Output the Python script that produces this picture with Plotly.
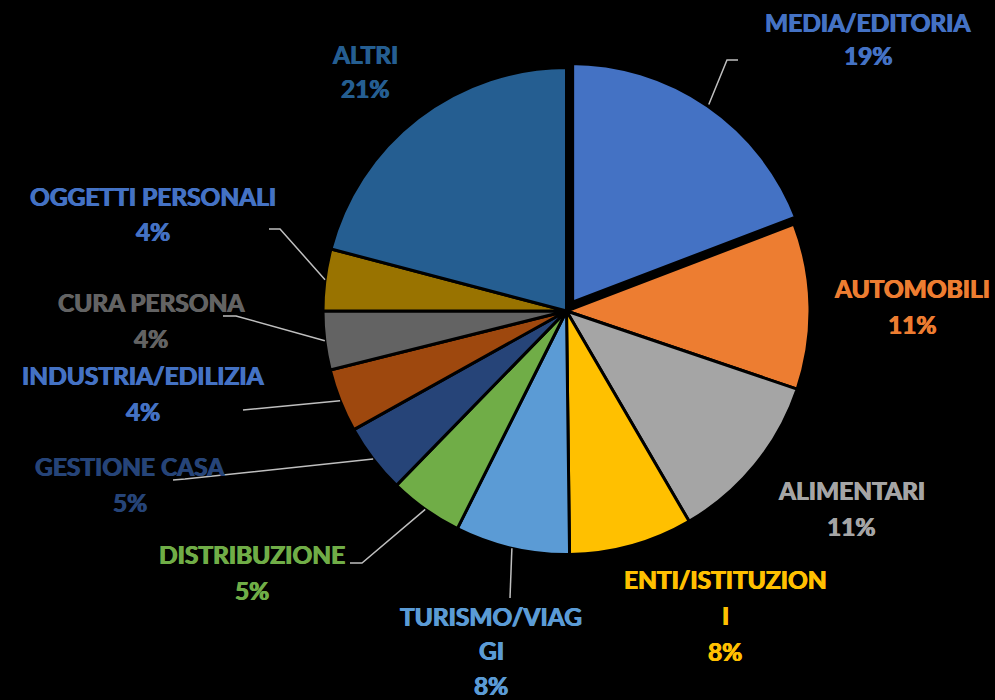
import math
import plotly.graph_objects as go

# Ripartizione degli investimenti per settore merceologico (%)
categories = [
    "MEDIA/EDITORIA", "AUTOMOBILI", "ALIMENTARI", "ENTI/ISTITUZIONI",
    "TURISMO/VIAGGI", "DISTRIBUZIONE", "GESTIONE CASA", "INDUSTRIA/EDILIZIA",
    "CURA PERSONA", "OGGETTI PERSONALI", "ALTRI",
]
values = [19.2, 11.0, 11.4, 8.2, 7.6, 4.9, 4.6, 4.2, 3.9, 4.1, 20.9]

slice_colors = [
    "#4472C4", "#ED7D31", "#A5A5A5", "#FFC000", "#5B9BD5", "#70AD47",
    "#264478", "#9E480E", "#636363", "#997300", "#255E91",
]
label_colors = [
    "#4472C4", "#ED7D31", "#A5A5A5", "#FFC000", "#5B9BD5", "#70AD47",
    "#264478", "#4472C4", "#636363", "#4472C4", "#255E91",
]

# ---- layout geometry (pixels) ----
W, H = 995, 700
CX, CY, R = 566.5, 311.0, 243.5
PULL = 0.03
pulls = [PULL] + [0] * (len(values) - 1)
border_widths = [7] + [3] * (len(values) - 1)

box = 2 * R * (1 + PULL)
dom_x = [(CX - box / 2) / W, (CX + box / 2) / W]
dom_y = [1 - (CY + box / 2) / H, 1 - (CY - box / 2) / H]

# label blocks: centre x, y of the first line, line step, wrapped name lines
label_layout = {
    "MEDIA/EDITORIA": (868, 22, 34, ["MEDIA/EDITORIA"]),
    "AUTOMOBILI": (912, 289, 35, ["AUTOMOBILI"]),
    "ALIMENTARI": (851, 490.5, 35.5, ["ALIMENTARI"]),
    "ENTI/ISTITUZIONI": (725, 579, 36, ["ENTI/ISTITUZION", "I"]),
    "TURISMO/VIAGGI": (491, 616, 34.5, ["TURISMO/VIAG", "GI"]),
    "DISTRIBUZIONE": (251.5, 554, 36, ["DISTRIBUZIONE"]),
    "GESTIONE CASA": (130, 466, 36, ["GESTIONE CASA"]),
    "INDUSTRIA/EDILIZIA": (143, 375, 36, ["INDUSTRIA/EDILIZIA"]),
    "CURA PERSONA": (151, 302, 36, ["CURA PERSONA"]),
    "OGGETTI PERSONALI": (153, 196, 36, ["OGGETTI PERSONALI"]),
    "ALTRI": (365, 54, 35, ["ALTRI"]),
}

# leader lines: points after the slice edge (elbow, end)
leader_layout = {
    "MEDIA/EDITORIA": [(727, 60), (738, 60)],
    "DISTRIBUZIONE": [(362, 563), (350, 563)],
    "TURISMO/VIAGGI": [(510, 598)],
    "GESTIONE CASA": [(185, 479), (173, 480)],
    "INDUSTRIA/EDILIZIA": [(243, 410)],
    "CURA PERSONA": [(236, 316), (223, 316)],
    "OGGETTI PERSONALI": [(280, 229), (269, 229)],
}


def px(x, y):
    return x / W, 1 - y / H


total = sum(values)
percents = [int(math.floor(v / total * 100 + 0.5)) for v in values]

fig = go.Figure(
    go.Pie(
        labels=categories,
        values=values,
        sort=False,
        direction="clockwise",
        rotation=0,
        pull=pulls,
        marker=dict(colors=slice_colors,
                    line=dict(color="#000000", width=border_widths)),
        textinfo="none",
        hoverinfo="label+percent",
        domain=dict(x=dom_x, y=dom_y),
        showlegend=False,
    )
)

annotations = []
shapes = []
cum = 0.0
for name, val, pct, col, pull in zip(categories, values, percents, label_colors, pulls):
    mid = (cum + val / 2) / total * 2 * math.pi
    cum += val
    # slice edge at the middle angle (clockwise from 12 o'clock)
    rr = R * (1 + pull)
    sx = CX + rr * math.sin(mid)
    sy = CY - rr * math.cos(mid)

    lx, ly, step, lines = label_layout[name]
    for i, t in enumerate(lines + [f"{pct}%"]):
        ax, ay = px(lx, ly + i * step)
        annotations.append(dict(
            x=ax, y=ay, xref="paper", yref="paper",
            text=t, showarrow=False, xanchor="center", yanchor="middle",
            font=dict(family="Lato", size=24.5, color=col, weight="bold",
                      shadow=f"0.6px 0 0 {col}, -0.6px 0 0 {col}"),
        ))

    if name in leader_layout:
        pts = [(sx, sy)] + leader_layout[name]
        path = "M " + " L ".join(
            "{:.5f},{:.5f}".format(*px(x, y)) for x, y in pts
        )
        shapes.append(dict(
            type="path", xref="paper", yref="paper", path=path,
            line=dict(color="#BFBFBF", width=1.5),
        ))

fig.update_layout(
    width=W, height=H,
    autosize=False,
    margin=dict(l=0, r=0, t=0, b=0),
    paper_bgcolor="#000000",
    plot_bgcolor="#000000",
    annotations=annotations,
    shapes=shapes,
    showlegend=False,
)

fig.write_html("out.html")
